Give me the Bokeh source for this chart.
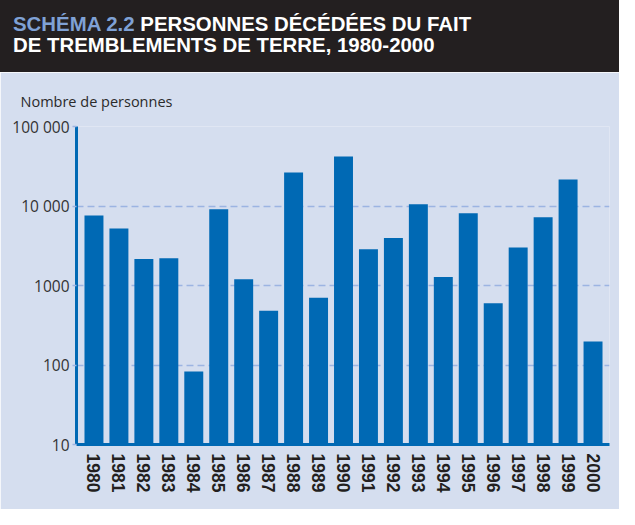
from bokeh.plotting import figure
from bokeh.layouts import column
from bokeh.models import Range1d, FixedTicker, BasicTickFormatter, Div, Title
from bokeh.embed import file_html
from bokeh.resources import INLINE

# ---- data ----
years = list(range(1980, 2001))
deaths = [7600, 5200, 2150, 2200, 83, 9100, 1200, 480, 26300, 700, 42000,
          2850, 3950, 10500, 1280, 8100, 600, 3000, 7200, 21600, 198]
y_ticks = [10, 100, 1000, 10000, 100000]
y_tick_labels = ["10", "100", "1000", "10 000", "100 000"]

title_part1 = "SCHÉMA 2.2"
title_part2 = "PERSONNES DÉCÉDÉES DU FAIT"
title_line2 = "DE TREMBLEMENTS DE TERRE, 1980-2000"
y_label = "Nombre de personnes"

# ---- colours ----
BG = "#d5deef"
DARK = "#231f20"
BLUE = "#0069b4"
GRID = "#9cb4e2"
LIGHT_TITLE = "#7fa1d5"

W = 619

# ---- title band ----
html = ('<div style="margin:0; padding:14px 0 0 13px; line-height:21px; '
        "font-family:'Liberation Sans', Arial, sans-serif; font-weight:bold; "
        'font-size:20.4px; color:white; white-space:nowrap;">'
        f'<span style="color:{LIGHT_TITLE}">{title_part1}</span> {title_part2}'
        f'<br>{title_line2}</div>')
title_div = Div(text=html, width=W, height=72, margin=0, styles={
    "background-color": DARK, "box-sizing": "border-box", "overflow": "hidden"})

# ---- chart ----
x_start, x_end = 1979.30, 2000.66
p = figure(width=W, height=437, y_axis_type="log",
           x_range=Range1d(x_start, x_end), y_range=Range1d(y_ticks[0], y_ticks[-1]),
           output_backend="svg", toolbar_location=None, margin=0,
           min_border_left=76, min_border_right=10, min_border_top=54, min_border_bottom=65)
p.background_fill_color = BG
p.border_fill_color = BG
p.outline_line_color = None

p.title = Title(text=y_label, align="left", offset=-56, standoff=32,
                text_font="Open Sans", text_font_style="normal", text_font_size="14.5px",
                text_color="#2b2b2b")

p.vbar(x=years, top=deaths, bottom=y_ticks[0], width=0.76, fill_color=BLUE, line_color=None)

# y axis
ya = p.yaxis[0]
ya.ticker = FixedTicker(ticks=y_ticks, minor_ticks=[])
ya.major_label_overrides = {v: s for v, s in zip(y_ticks, y_tick_labels)}
ya.axis_line_color = BLUE
ya.axis_line_width = 3
ya.major_tick_line_color = GRID
ya.major_tick_line_width = 1.5
ya.major_tick_out = 4
ya.major_tick_in = 0
ya.minor_tick_line_color = None
ya.major_label_text_font = "Open Sans"
ya.major_label_text_font_size = "15.5px"
ya.major_label_text_color = "#333333"
ya.major_label_standoff = 3

p.ygrid.ticker = FixedTicker(ticks=y_ticks[1:], minor_ticks=[])
p.ygrid.grid_line_color = GRID
p.ygrid.grid_line_width = 1.5
p.ygrid.grid_line_dash = "7 4"
p.xgrid.visible = False

# x axis
xa = p.xaxis[0]
xa.ticker = FixedTicker(ticks=years, minor_ticks=[])
xa.formatter = BasicTickFormatter(use_scientific=False)
xa.axis_line_color = BLUE
xa.axis_line_width = 3
xa.major_tick_line_color = None
xa.minor_tick_line_color = None
xa.major_label_orientation = "vertical"
xa.major_label_text_font = "Liberation Sans"
xa.major_label_text_font_style = "bold"
xa.major_label_text_font_size = "17.5px"
xa.major_label_text_color = DARK
xa.major_label_standoff = 3

layout = column(title_div, p, spacing=0)
open("out.html", "w").write(file_html(layout, INLINE))
